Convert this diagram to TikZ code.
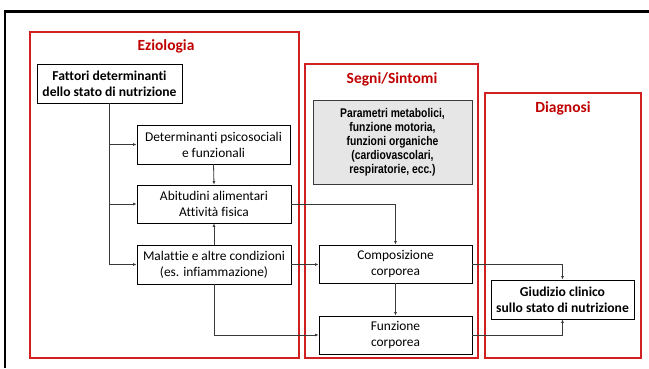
\documentclass[tikz,border=0pt]{standalone}
\usepackage{fontspec}
\setmainfont{Carlito}[Ligatures=NoCommon]
\newfontfamily\narrowfont[FakeStretch=0.82]{Liberation Sans}
\usetikzlibrary{arrows.meta}
\definecolor{titlered}{HTML}{C00000}
\definecolor{framered}{HTML}{D02020}
\definecolor{paramgray}{HTML}{E6E6E6}
\definecolor{linkgray}{HTML}{3A3A3A}
\tikzset{
  box/.style={draw=black, line width=0.9pt, fill=white, align=center, inner sep=1pt,
    font=\fontsize{13.4}{16}\selectfont},
  boldbox/.style={box, font=\fontsize{13.6}{16}\selectfont\bfseries},
  title/.style={text=titlered, font=\fontsize{15.5}{18}\selectfont\bfseries},
  area/.style={draw=framered, line width=1.2pt},
  link/.style={draw=linkgray, line width=0.8pt, -{Latex[length=3.5pt,width=3pt]}},
  trunk/.style={draw=linkgray, line width=0.8pt}
}
\begin{document}
\begin{tikzpicture}[x=1pt, y=-1pt]
		\useasboundingbox (0,0) rectangle (649,368);
		\fill[white] (0,0) rectangle (649,368);
		\draw[line width=2.2pt] (5,368) -- (5,11.5) -- (649,11.5);

		%--- aree
		\draw[area] (30,32) rectangle (299,358);
		\draw[area] (305,64) rectangle (478,358);
		\draw[area] (485,93) rectangle (641,358);
		\node[title] (eziol) at (166,46) {Eziologia};
		\node[title] (segni) at (392,79) {Segni/Sintomi};
		\node[title] (diagn) at (563,108) {Diagnosi};

		%--- eziologia
		\node[boldbox, minimum width=145pt, minimum height=39pt] (fatt) at (109.5,83.5) {Fattori determinanti\\dello stato di nutrizione};
		\node[box, minimum width=153pt, minimum height=39pt] (psico) at (213.5,144.5) {Determinanti psicosociali\\e funzionali};
		\node[box, minimum width=154pt, minimum height=38pt] (abit) at (214,204) {Abitudini alimentari\\Attività fisica};
		\node[box, minimum width=154pt, minimum height=39pt] (malat) at (214,264.5) {Malattie e altre condizioni\\(es. infiammazione)};

		%--- segni/sintomi
		\node[draw=linkgray, line width=1pt, fill=paramgray, align=center, minimum width=159pt, minimum height=84pt,
		  font=\narrowfont\bfseries\fontsize{12.6}{14}\selectfont] (param) at (392.5,142)
		  {Parametri metabolici,\\funzione motoria,\\funzioni organiche\\(cardiovascolari,\\respiratorie, ecc.)};
		\node[box, minimum width=153pt, minimum height=38pt] (comp) at (395.5,264) {Composizione\\corporea};
		\node[box, minimum width=153pt, minimum height=38pt] (funz) at (395.5,335) {Funzione\\corporea};

		%--- diagnosi
		\node[boldbox, minimum width=143pt, minimum height=39pt] (giud) at (562.5,299.5) {Giudizio clinico\\sullo stato di nutrizione};

		%--- connettori
		\draw[trunk] (fatt.south) -- (fatt.south |- malat.west);
		\draw[link] (fatt.south |- psico.west) -- (psico.west);
		\draw[link] (fatt.south |- abit.west) -- (abit.west);
		\draw[link] (fatt.south |- malat.west) -- (malat.west);
		\draw[link] (psico.south) -- (abit.north);
		\draw[link] (malat.north) -- (abit.south);
		\draw[link] (abit.east) -| (comp.north);
		\draw[link] (malat.east) -- (malat.east -| comp.west);
		\draw[link] (malat.south) |- (funz.west);
		\draw[link] (comp.south) -- (funz.north);
		\draw[link] (comp.east) -| (giud.north);
		\draw[link] (funz.east) -| (giud.south);
	\end{tikzpicture}
\end{document}
